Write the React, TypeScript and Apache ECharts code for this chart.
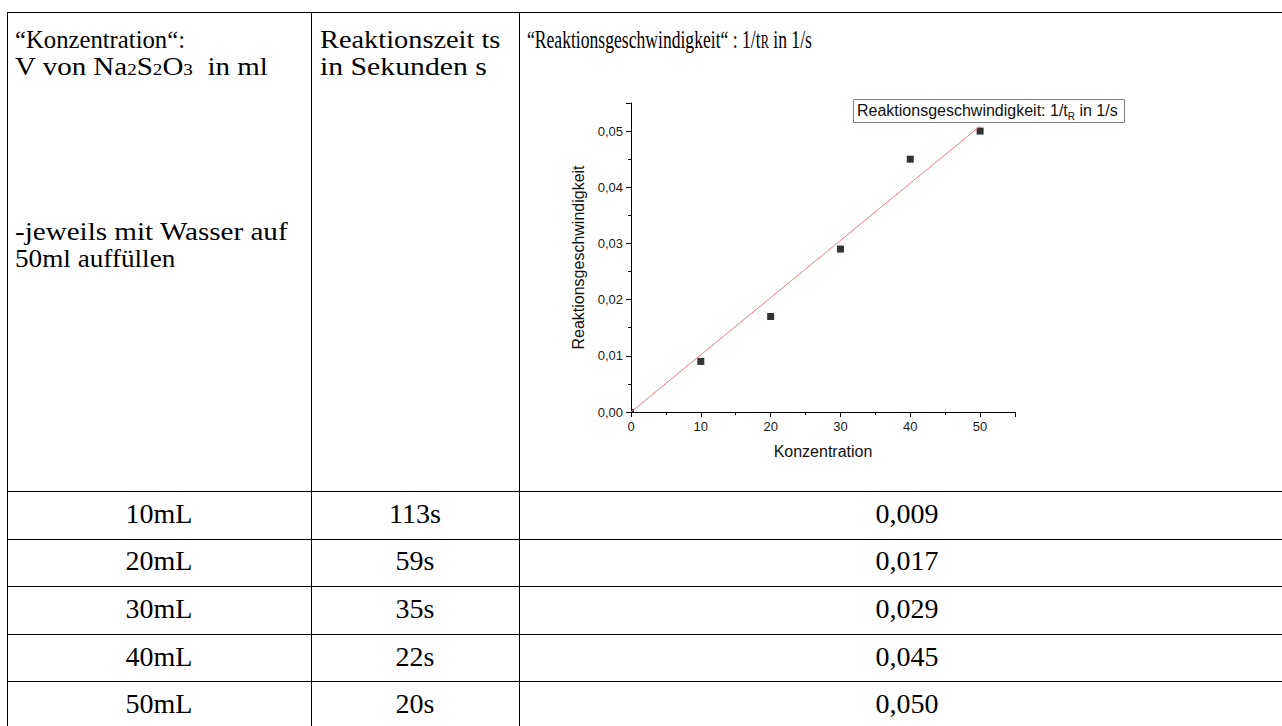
import React, { useEffect, useLayoutEffect, useRef, useState } from "react";
import * as echarts from "echarts";

// ---- data ----
const volumes = [10, 20, 30, 40, 50]; // ml Na2S2O3
const times = [113, 59, 35, 22, 20]; // s
const rates = [0.009, 0.017, 0.029, 0.045, 0.05]; // 1/s

const plotX = [0, 10, 20, 30, 40, 50];
const plotY = [0, 0.009, 0.017, 0.029, 0.045, 0.05];
const fitX = [0, 50];
const fitY = [0, 0.0509];

const xTickLabels = ["0", "10", "20", "30", "40", "50"];
const yTickLabels = ["0,00", "0,01", "0,02", "0,03", "0,04", "0,05"];

const SERIF = '"Liberation Serif", "Times New Roman", serif';
const SANS = '"Liberation Sans", Arial, sans-serif';

// ---- layout ----
const TOP = 12;
const LEFT = 7;
const COL1 = 311;
const COL2 = 519;
const COL_RIGHT = 1295;
const ROW0 = 491;
const ROW_H = 47.6;
const FS = 28;
const LH = 27.4;

function Line(props: { x: number; y: number; w: number; h: number }) {
  return (
    <div
      style={{
        position: "absolute",
        left: props.x,
        top: props.y,
        width: props.w,
        height: props.h,
        background: "#000",
      }}
    />
  );
}

// text line placed by baseline, horizontally fitted to a target width
function FitText(props: {
  x: number;
  baseline: number;
  width: number;
  fontSize: number;
  children: React.ReactNode;
}) {
  const ref = useRef<HTMLDivElement>(null);
  const [scale, setScale] = useState(1);
  useLayoutEffect(() => {
    const w = ref.current ? ref.current.offsetWidth : 0;
    if (w > 0) setScale(props.width / w);
  }, [props.width]);
  const fs = props.fontSize;
  const lh = Math.round(fs * 1.15);
  const baseOff = (lh - fs * 1.107) / 2 + fs * 0.891;
  return (
    <div
      ref={ref}
      style={{
        position: "absolute",
        left: props.x,
        top: props.baseline - baseOff,
        fontFamily: SERIF,
        fontSize: fs,
        lineHeight: lh + "px",
        whiteSpace: "nowrap",
        color: "#000",
        transform: `scaleX(${scale})`,
        transformOrigin: "0 0",
      }}
    >
      {props.children}
    </div>
  );
}

function Centered(props: { cx: number; baseline: number; children: React.ReactNode }) {
  const lh = 32;
  const baseOff = (lh - FS * 1.107) / 2 + FS * 0.891;
  return (
    <div
      style={{
        position: "absolute",
        left: props.cx - 150,
        width: 300,
        textAlign: "center",
        top: props.baseline - baseOff,
        fontFamily: SERIF,
        fontSize: FS,
        lineHeight: lh + "px",
        whiteSpace: "nowrap",
        color: "#000",
      }}
    >
      {props.children}
    </div>
  );
}

const sub = { fontSize: "0.66em" } as React.CSSProperties;

function Chart() {
  const ref = useRef<HTMLDivElement>(null);
  useEffect(() => {
    const chart = echarts.init(ref.current!, null, { renderer: "svg" });
    const xFmt = (v: number) => {
      const k = Math.round(v);
      return k % 10 === 0 ? xTickLabels[k / 10] ?? "" : "";
    };
    const yFmt = (v: number) => {
      const k = Math.round(v * 1000);
      return k % 10 === 0 ? yTickLabels[k / 10] ?? "" : "";
    };
    const labelStyle = { fontSize: 13, color: "#1a1a1a", fontFamily: SANS, margin: 8 };
    const nameStyle = { fontSize: 16, color: "#111", fontFamily: SANS };
    chart.setOption({
      animation: false,
      grid: { left: 101, top: 13, width: 384, height: 309 },
      xAxis: [
        {
          type: "value",
          min: 0,
          max: 55,
          interval: 5,
          position: "bottom",
          name: "Konzentration",
          nameLocation: "middle",
          nameGap: 31,
          nameTextStyle: nameStyle,
          axisLine: { show: true, onZero: false, lineStyle: { color: "#000", width: 1 } },
          axisTick: { show: true, length: 3, lineStyle: { color: "#000" } },
          axisLabel: { ...labelStyle, formatter: xFmt },
          splitLine: { show: false },
        },
        {
          type: "value",
          min: 0,
          max: 55,
          interval: 10,
          position: "bottom",
          axisLine: { show: false, onZero: false },
          axisTick: { show: true, length: 5, lineStyle: { color: "#000" } },
          axisLabel: { show: false },
          splitLine: { show: false },
        },
      ],
      yAxis: [
        {
          type: "value",
          min: 0,
          max: 0.055,
          interval: 0.005,
          position: "left",
          name: "Reaktionsgeschwindigkeit",
          nameLocation: "middle",
          nameRotate: 90,
          nameGap: 31,
          nameTextStyle: nameStyle,
          axisLine: { show: true, onZero: false, lineStyle: { color: "#000", width: 1 } },
          axisTick: { show: true, length: 3, lineStyle: { color: "#000" } },
          axisLabel: { ...labelStyle, formatter: yFmt },
          splitLine: { show: false },
        },
        {
          type: "value",
          min: 0,
          max: 0.055,
          interval: 0.01,
          position: "left",
          axisLine: { show: false, onZero: false },
          axisTick: { show: true, length: 5, lineStyle: { color: "#000" } },
          axisLabel: { show: false },
          splitLine: { show: false },
        },
      ],
      series: [
        {
          type: "line",
          name: "fit",
          xAxisIndex: 0,
          yAxisIndex: 0,
          data: fitX.map((x, i) => [x, fitY[i]]),
          symbol: "none",
          lineStyle: { color: "#f47a7a", width: 1 },
          silent: true,
        },
        {
          type: "scatter",
          name: "Reaktionsgeschwindigkeit: 1/tR in 1/s",
          xAxisIndex: 0,
          yAxisIndex: 0,
          symbol: "rect",
          symbolSize: 7,
          itemStyle: { color: "#000" },
          data: plotX.map((x, i) =>
            i === 0
              ? { value: [x, plotY[i]], symbolSize: 3, symbolOffset: [1.5, -1.5] }
              : [x, plotY[i]]
          ),
        },
      ],
      graphic: [
        {
          type: "group",
          left: 323,
          top: 9,
          children: [
            {
              type: "rect",
              shape: { x: 0.5, y: 0.5, width: 271, height: 23 },
              style: { fill: "#fff", stroke: "#808080", lineWidth: 1 },
            },
            {
              type: "text",
              x: 4,
              y: 1,
              style: {
                text: "{a|Reaktionsgeschwindigkeit: 1/t}{s|R}{a| in 1/s}",
                rich: {
                  a: { fontSize: 16, lineHeight: 21, fontFamily: SANS, fill: "#111" },
                  s: { fontSize: 10, lineHeight: 10, verticalAlign: "bottom", fontFamily: SANS, fill: "#111" },
                },
              },
            },
          ],
        },
      ],
    });
    return () => chart.dispose();
  }, []);
  return (
    <div
      ref={ref}
      style={{ position: "absolute", left: 530, top: 90, width: 640, height: 390 }}
    />
  );
}

export default function App() {
  const c1 = (LEFT + COL1) / 2;
  const c2 = (COL1 + COL2) / 2;
  const c3 = (COL2 + COL_RIGHT) / 2;
  const headBase = 48.8;
  return (
    <div
      style={{
        position: "absolute",
        left: 0,
        top: 0,
        width: 1282,
        height: 726,
        overflow: "hidden",
        background: "#fff",
      }}
    >
      {/* grid lines */}
      <Line x={LEFT} y={TOP} w={1290} h={1} />
      {[0, 1, 2, 3, 4, 5].map((i) => (
        <Line key={"h" + i} x={LEFT} y={Math.round(ROW0 + i * ROW_H)} w={1290} h={1} />
      ))}
      <Line x={LEFT} y={TOP} w={1} h={760} />
      <Line x={COL1} y={TOP} w={1} h={760} />
      <Line x={COL2} y={TOP} w={1} h={760} />
      <Line x={COL_RIGHT} y={TOP} w={1} h={760} />

      {/* header column 1 */}
      <FitText x={15} baseline={headBase} width={170} fontSize={26}>
        “Konzentration“:
      </FitText>
      <FitText x={15} baseline={headBase + LH} width={253} fontSize={26}>
        V von Na<span style={sub}>2</span>S<span style={sub}>2</span>O<span style={sub}>3</span>
        {"\u00a0 "}in ml
      </FitText>
      <FitText x={15} baseline={headBase + 7 * LH} width={273} fontSize={26}>
        -jeweils mit Wasser auf
      </FitText>
      <FitText x={15} baseline={headBase + 8 * LH} width={160} fontSize={26}>
        50ml auffüllen
      </FitText>

      {/* header column 2 */}
      <FitText x={320} baseline={headBase} width={180} fontSize={26}>
        Reaktionszeit ts
      </FitText>
      <FitText x={320} baseline={headBase + LH} width={167} fontSize={26}>
        in Sekunden s
      </FitText>

      {/* header column 3 */}
      <FitText x={527} baseline={headBase} width={285} fontSize={26}>
        “Reaktionsgeschwindigkeit“ : 1/t<span style={{ fontSize: "0.7em" }}>R</span> in 1/s
      </FitText>

      <Chart />

      {/* body rows */}
      {volumes.map((v, i) => {
        const base = 523.3 + i * ROW_H;
        return (
          <React.Fragment key={v}>
            <Centered cx={c1} baseline={base}>{v}mL</Centered>
            <Centered cx={c2} baseline={base}>{times[i]}s</Centered>
            <Centered cx={c3} baseline={base}>{rates[i].toFixed(3).replace(".", ",")}</Centered>
          </React.Fragment>
        );
      })}
    </div>
  );
}
